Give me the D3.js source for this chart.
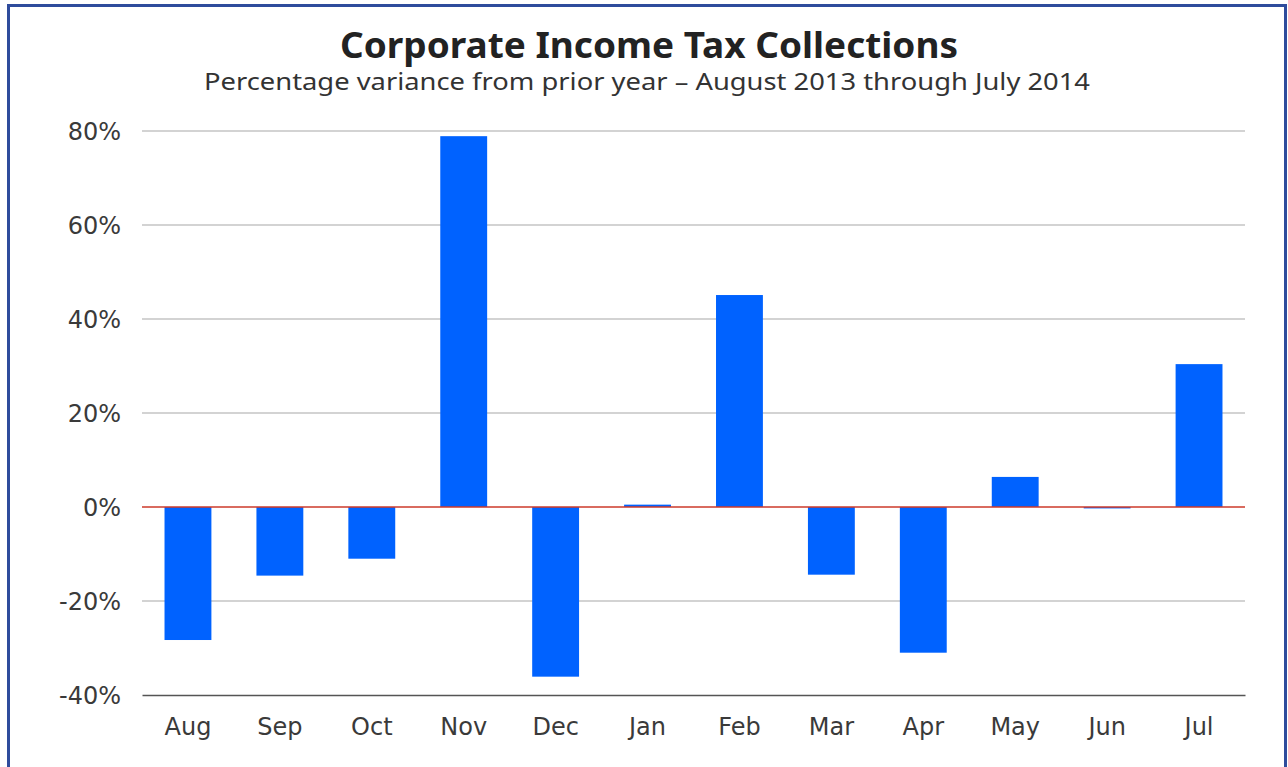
<!DOCTYPE html>
<html>
<head>
<meta charset="utf-8">
<script src="https://cdnjs.cloudflare.com/ajax/libs/d3/7.8.5/d3.min.js"></script>
<style>
  body { margin: 0; background: #fff; }
  svg { display: block; font-family: "Noto Sans", "DejaVu Sans", sans-serif; }
</style>
</head>
<body>
<svg id="chart" width="1288" height="767"></svg>
<script>
// chart data
var months = ['Aug', 'Sep', 'Oct', 'Nov', 'Dec', 'Jan', 'Feb', 'Mar', 'Apr', 'May', 'Jun', 'Jul'];
var variance = [-28.3, -14.6, -11.0, 78.9, -36.1, 0.5, 45.1, -14.4, -31.0, 6.4, -0.3, 30.4];
var yTicks = [-40, -20, 0, 20, 40, 60, 80];

var title = 'Corporate Income Tax Collections';
var subtitle = 'Percentage variance from prior year \u2013 August 2013 through July 2014';

var svg = d3.select('#chart');
var m = { left: 142, right: 1245, top: 131, bottom: 695 };
var labelFont = '"DejaVu Sans", sans-serif';

// frame
svg.append('rect')
    .attr('x', 8.5).attr('y', 5.5)
    .attr('width', 1277).attr('height', 800)
    .attr('fill', 'none')
    .attr('stroke', '#2f4c9c')
    .attr('stroke-width', 3);

var x = d3.scaleBand()
    .domain(months)
    .range([m.left, m.right])
    .paddingInner(0.49)
    .paddingOuter(0.245);

var y = d3.scaleLinear()
    .domain([-40, 80])
    .range([m.bottom, m.top]);

// gridlines
svg.append('g')
    .selectAll('line')
    .data(yTicks.filter(function (d) { return d !== -40 && d !== 0; }))
    .enter().append('line')
    .attr('x1', m.left).attr('x2', m.right)
    .attr('y1', function (d) { return y(d); })
    .attr('y2', function (d) { return y(d); })
    .attr('stroke', '#c4c4c4')
    .attr('stroke-width', 1.3);

// y axis labels
var yAxis = d3.axisLeft(y)
    .tickValues(yTicks)
    .tickSize(0)
    .tickPadding(21)
    .tickFormat(function (d) { return d + '%'; });
var gy = svg.append('g')
    .attr('transform', 'translate(' + m.left + ',0)')
    .call(yAxis);
gy.select('.domain').remove();
gy.attr('font-family', labelFont).attr('font-size', 24);
gy.selectAll('text')
    .attr('fill', '#3a3a3a')
    .attr('dy', '0.36em');

// bars
svg.append('g')
    .selectAll('rect')
    .data(variance)
    .enter().append('rect')
    .attr('x', function (d, i) { return x(months[i]); })
    .attr('width', x.bandwidth())
    .attr('y', function (d) { return y(Math.max(0, d)); })
    .attr('height', function (d) { return Math.abs(y(d) - y(0)); })
    .attr('fill', '#0062ff');

// zero line
svg.append('line')
    .attr('x1', m.left).attr('x2', m.right)
    .attr('y1', y(0)).attr('y2', y(0))
    .attr('stroke', '#cc3a2a')
    .attr('stroke-width', 1.5);

// x axis (bottom at -40%)
var xAxis = d3.axisBottom(x).tickSize(0).tickPadding(23);
var gx = svg.append('g')
    .attr('transform', 'translate(0,' + y(-40) + ')')
    .call(xAxis);
gx.attr('font-family', labelFont).attr('font-size', 24);
gx.select('.domain')
    .attr('stroke', '#555')
    .attr('stroke-width', 1.5);
gx.selectAll('text')
    .attr('fill', '#3a3a3a');

// titles
svg.append('text')
    .attr('x', 649).attr('y', 58)
    .attr('text-anchor', 'middle')
    .attr('font-size', 35)
    .attr('font-weight', 'bold')
    .attr('fill', '#222')
    .attr('textLength', 618)
    .attr('lengthAdjust', 'spacingAndGlyphs')
    .text(title);

svg.append('text')
    .attr('x', 647).attr('y', 90)
    .attr('text-anchor', 'middle')
    .attr('font-size', 24)
    .attr('fill', '#333')
    .attr('textLength', 886)
    .attr('lengthAdjust', 'spacingAndGlyphs')
    .text(subtitle);
</script>
</body>
</html>
